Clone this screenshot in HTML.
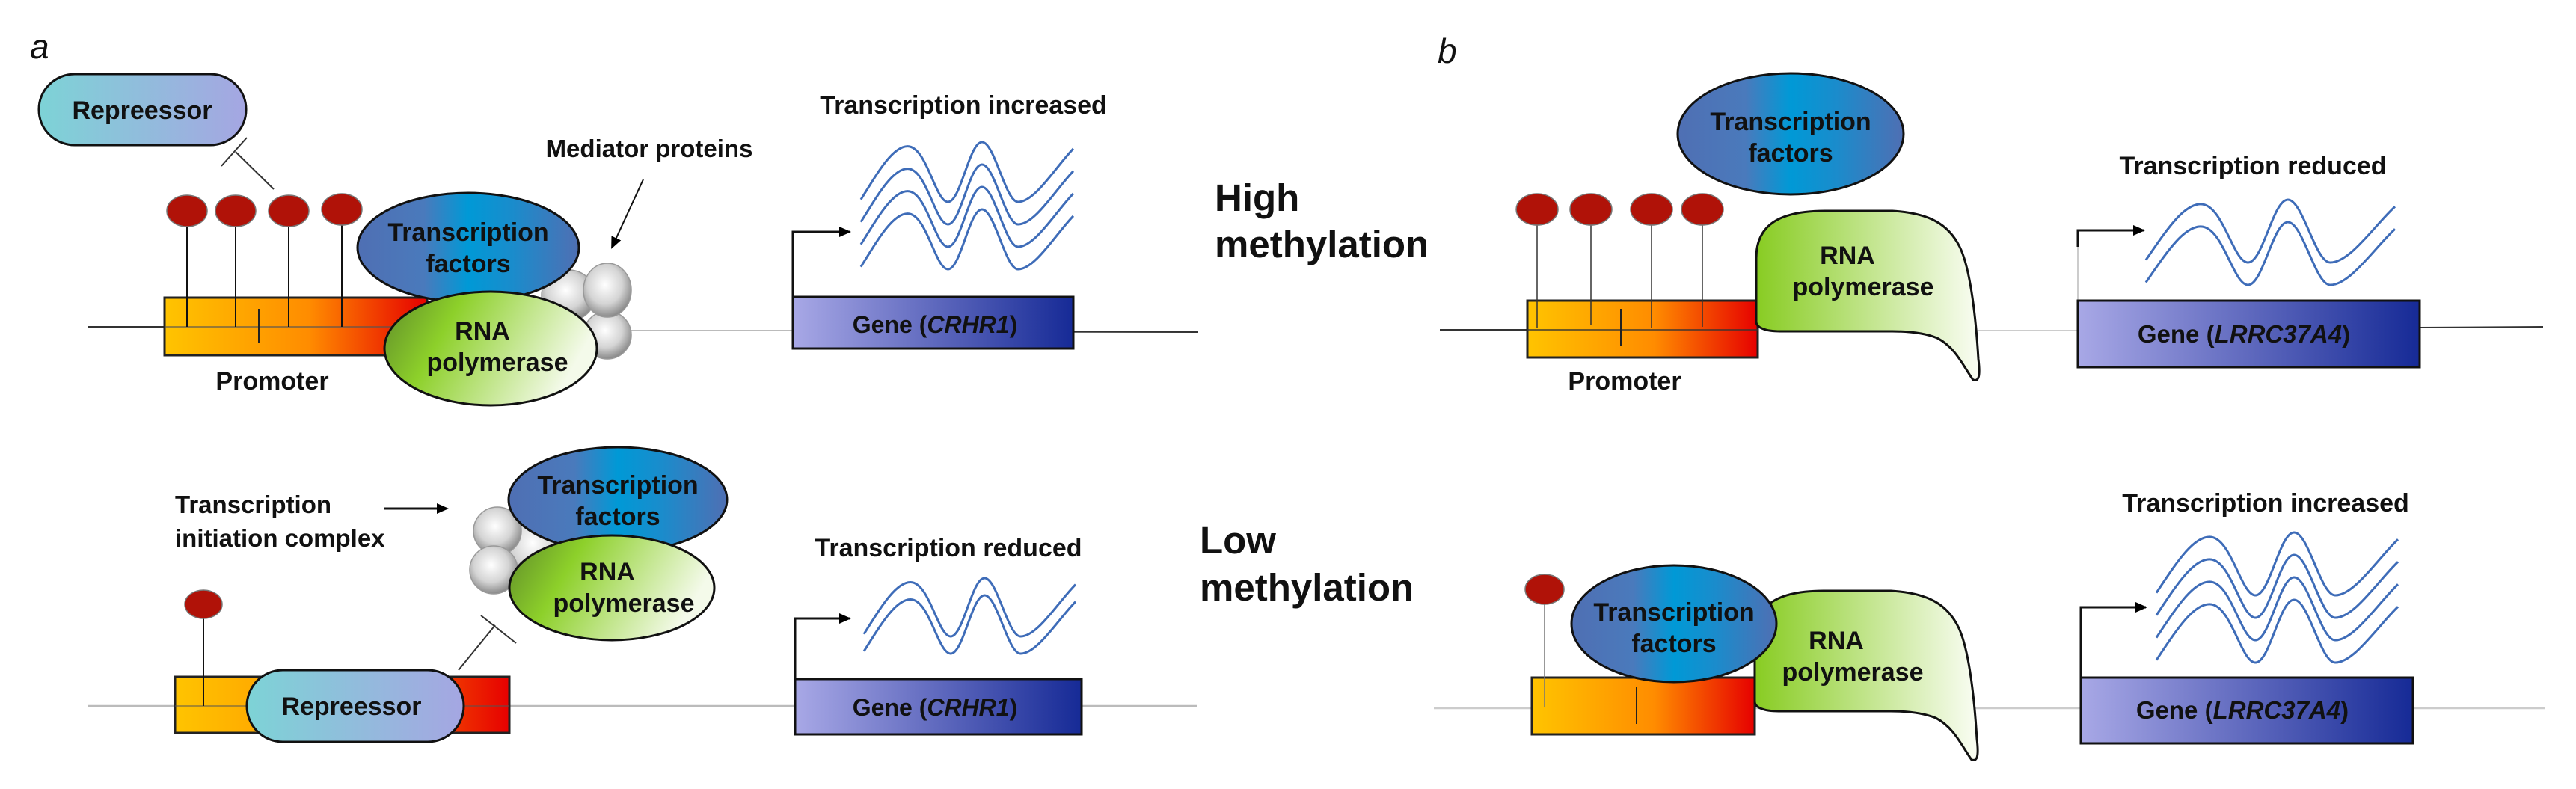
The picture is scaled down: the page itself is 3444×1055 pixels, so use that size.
<!DOCTYPE html>
<html><head><meta charset="utf-8"><style>
html,body{margin:0;padding:0;background:#fff;width:3444px;height:1055px;overflow:hidden}
text{font-family:"Liberation Sans",Arial,sans-serif;font-weight:bold;fill:#111}
</style></head><body>
<svg width="3444" height="1055" viewBox="0 0 3444 1055" xmlns="http://www.w3.org/2000/svg">
<defs>
<linearGradient id="rep" x1="0" x2="1" y1="0" y2="0"><stop offset="0" stop-color="#7dd3d6"/><stop offset="1" stop-color="#a5a6e2"/></linearGradient>
<linearGradient id="pro" x1="0" x2="1" y1="0" y2="0"><stop offset="0" stop-color="#ffc400"/><stop offset="0.55" stop-color="#ff8c00"/><stop offset="1" stop-color="#e60000"/></linearGradient>
<linearGradient id="tf" x1="0" x2="1" y1="0" y2="0"><stop offset="0" stop-color="#4f6fb3"/><stop offset="0.3" stop-color="#4a7abc"/><stop offset="0.5" stop-color="#0099d6"/><stop offset="0.7" stop-color="#1a8ccc"/><stop offset="1" stop-color="#4f6fb3"/></linearGradient>
<linearGradient id="pol" x1="0" x2="1" y1="0" y2="0.3"><stop offset="0" stop-color="#5e8a2a"/><stop offset="0.35" stop-color="#8dd02a"/><stop offset="1" stop-color="#f4faea"/></linearGradient>
<linearGradient id="pol2" x1="0" x2="1" y1="0" y2="0"><stop offset="0" stop-color="#88cc22"/><stop offset="1" stop-color="#fafdf4"/></linearGradient>
<linearGradient id="gene" x1="0" x2="1" y1="0" y2="0"><stop offset="0" stop-color="#a8a8e6"/><stop offset="1" stop-color="#162a96"/></linearGradient>
<radialGradient id="sph" cx="0.45" cy="0.4" r="0.6"><stop offset="0" stop-color="#ffffff"/><stop offset="0.6" stop-color="#d4d4d4"/><stop offset="1" stop-color="#8a8a8a"/></radialGradient>
<marker id="ah2" markerWidth="16" markerHeight="16" refX="14" refY="8" orient="auto" markerUnits="userSpaceOnUse"><path d="M0,1 L16,8 L0,15 Z" fill="#000"/></marker>
</defs>

<!-- ===== Panel a ===== -->
<text x="40" y="78" style="font-style:italic;font-weight:normal" font-size="46">a</text>

<line x1="117" y1="437" x2="230" y2="437" stroke="#333" stroke-width="2"/>
<line x1="780" y1="442" x2="1060" y2="442" stroke="#bbb" stroke-width="2"/>
<line x1="1060" y1="443" x2="1602" y2="444" stroke="#333" stroke-width="2"/>

<rect x="52" y="99" width="277" height="95" rx="48" ry="47" fill="url(#rep)" stroke="#111" stroke-width="3"/>
<text x="190" y="159" font-size="34" text-anchor="middle">Repreessor</text>
<line x1="366" y1="253" x2="315" y2="203" stroke="#333" stroke-width="2"/>
<line x1="296" y1="222" x2="330" y2="184" stroke="#333" stroke-width="2"/>

<rect x="220" y="398" width="351" height="77" fill="url(#pro)" stroke="#222" stroke-width="3"/>
<line x1="220" y1="437" x2="571" y2="437" stroke="#555" stroke-width="2" opacity="0.6"/>
<line x1="346" y1="413" x2="346" y2="458" stroke="#222" stroke-width="2"/>
<g stroke="#111" stroke-width="2">
<line x1="250" y1="290" x2="250" y2="437"/><line x1="315" y1="290" x2="315" y2="437"/>
<line x1="386" y1="290" x2="386" y2="437"/><line x1="457" y1="290" x2="457" y2="437"/>
</g>
<g fill="#b01208" stroke="#777" stroke-width="1.5">
<ellipse cx="250" cy="282" rx="27" ry="21"/><ellipse cx="315" cy="282" rx="27" ry="21"/>
<ellipse cx="386" cy="282" rx="27" ry="21"/><ellipse cx="457" cy="280" rx="27" ry="21"/>
</g>
<text x="364" y="521" font-size="34" text-anchor="middle">Promoter</text>

<g fill="url(#sph)" stroke="#999" stroke-width="1.5">
<ellipse cx="760" cy="395" rx="36" ry="34"/>
<ellipse cx="812" cy="448" rx="32" ry="32"/>
<ellipse cx="812" cy="388" rx="32" ry="36"/>
</g>
<ellipse cx="626" cy="331" rx="148" ry="73" fill="url(#tf)" stroke="#111" stroke-width="3"/>
<text x="626" y="322" font-size="34" text-anchor="middle">Transcription</text>
<text x="626" y="364" font-size="34" text-anchor="middle">factors</text>
<ellipse cx="656" cy="466" rx="142" ry="76" fill="url(#pol)" stroke="#111" stroke-width="3"/>
<text x="645" y="454" font-size="34" text-anchor="middle">RNA</text>
<text x="665" y="496" font-size="34" text-anchor="middle">polymerase</text>

<text x="868" y="210" font-size="33" text-anchor="middle">Mediator proteins</text>
<line x1="860" y1="240" x2="818" y2="331" stroke="#111" stroke-width="2" marker-end="url(#ah2)"/>

<text x="1288" y="152" font-size="34" text-anchor="middle">Transcription increased</text>
<g fill="none" stroke="#3e6cb8" stroke-width="3">
<path vector-effect="non-scaling-stroke" transform="translate(1151,190) scale(284,80)" d="M0,0.96 C0.08,0.5 0.15,0.07 0.22,0.07 C0.31,0.07 0.35,1 0.41,1 C0.47,1 0.51,0 0.57,0 C0.63,0 0.68,1 0.74,1 C0.82,1 0.92,0.4 1,0.11"/>
<path vector-effect="non-scaling-stroke" transform="translate(1151,220) scale(284,80)" d="M0,0.96 C0.08,0.5 0.15,0.07 0.22,0.07 C0.31,0.07 0.35,1 0.41,1 C0.47,1 0.51,0 0.57,0 C0.63,0 0.68,1 0.74,1 C0.82,1 0.92,0.4 1,0.11"/>
<path vector-effect="non-scaling-stroke" transform="translate(1151,250) scale(284,80)" d="M0,0.96 C0.08,0.5 0.15,0.07 0.22,0.07 C0.31,0.07 0.35,1 0.41,1 C0.47,1 0.51,0 0.57,0 C0.63,0 0.68,1 0.74,1 C0.82,1 0.92,0.4 1,0.11"/>
<path vector-effect="non-scaling-stroke" transform="translate(1151,280) scale(284,80)" d="M0,0.96 C0.08,0.5 0.15,0.07 0.22,0.07 C0.31,0.07 0.35,1 0.41,1 C0.47,1 0.51,0 0.57,0 C0.63,0 0.68,1 0.74,1 C0.82,1 0.92,0.4 1,0.11"/>
</g>
<polyline points="1060,397 1060,310 1136,310" fill="none" stroke="#111" stroke-width="3" marker-end="url(#ah2)"/>
<rect x="1060" y="397" width="375" height="69" fill="url(#gene)" stroke="#111" stroke-width="3"/>
<text x="1250" y="445" font-size="32" text-anchor="middle">Gene (<tspan font-style="italic">CRHR1</tspan>)</text>

<text x="1624" y="282" font-size="51">High</text>
<text x="1624" y="344" font-size="51">methylation</text>
<text x="1604" y="740" font-size="51">Low</text>
<text x="1604" y="803" font-size="51">methylation</text>

<line x1="117" y1="944" x2="1600" y2="944" stroke="#bbb" stroke-width="2.5"/>
<text x="234" y="686" font-size="33">Transcription</text>
<text x="234" y="731" font-size="33">initiation complex</text>
<line x1="514" y1="680" x2="598" y2="680" stroke="#111" stroke-width="3" marker-end="url(#ah2)"/>
<g fill="url(#sph)" stroke="#999" stroke-width="1.5">
<ellipse cx="716" cy="735" rx="40" ry="45"/>
<ellipse cx="665" cy="710" rx="32" ry="32"/>
<ellipse cx="660" cy="762" rx="32" ry="32"/>
</g>
<ellipse cx="826" cy="668" rx="146" ry="70" fill="url(#tf)" stroke="#111" stroke-width="3"/>
<text x="826" y="660" font-size="34" text-anchor="middle">Transcription</text>
<text x="826" y="702" font-size="34" text-anchor="middle">factors</text>
<ellipse cx="818" cy="786" rx="137" ry="70" fill="url(#pol)" stroke="#111" stroke-width="3"/>
<text x="812" y="776" font-size="34" text-anchor="middle">RNA</text>
<text x="834" y="818" font-size="34" text-anchor="middle">polymerase</text>
<line x1="613" y1="896" x2="662" y2="836" stroke="#333" stroke-width="2"/>
<line x1="643" y1="823" x2="690" y2="860" stroke="#333" stroke-width="2"/>

<rect x="234" y="905" width="447" height="75" fill="url(#pro)" stroke="#222" stroke-width="3"/>
<line x1="234" y1="944" x2="681" y2="944" stroke="#555" stroke-width="2" opacity="0.5"/>
<line x1="272" y1="818" x2="272" y2="944" stroke="#111" stroke-width="2"/>
<ellipse cx="272" cy="808" rx="25" ry="19" fill="#b01208" stroke="#777" stroke-width="1.5"/>
<rect x="330" y="896" width="290" height="96" rx="48" ry="48" fill="url(#rep)" stroke="#111" stroke-width="3"/>
<text x="470" y="956" font-size="34" text-anchor="middle">Repreessor</text>

<text x="1268" y="744" font-size="34" text-anchor="middle">Transcription reduced</text>
<g fill="none" stroke="#3e6cb8" stroke-width="3">
<path vector-effect="non-scaling-stroke" transform="translate(1155,773) scale(283,78)" d="M0,0.96 C0.08,0.5 0.15,0.07 0.22,0.07 C0.31,0.07 0.35,1 0.41,1 C0.47,1 0.51,0 0.57,0 C0.63,0 0.68,1 0.74,1 C0.82,1 0.92,0.4 1,0.11"/>
<path vector-effect="non-scaling-stroke" transform="translate(1155,796) scale(283,78)" d="M0,0.96 C0.08,0.5 0.15,0.07 0.22,0.07 C0.31,0.07 0.35,1 0.41,1 C0.47,1 0.51,0 0.57,0 C0.63,0 0.68,1 0.74,1 C0.82,1 0.92,0.4 1,0.11"/>
</g>
<polyline points="1063,908 1063,827 1136,827" fill="none" stroke="#111" stroke-width="3" marker-end="url(#ah2)"/>
<rect x="1063" y="908" width="383" height="74" fill="url(#gene)" stroke="#111" stroke-width="3"/>
<text x="1250" y="957" font-size="32" text-anchor="middle">Gene (<tspan font-style="italic">CRHR1</tspan>)</text>

<!-- ===== Panel b ===== -->
<text x="1922" y="84" style="font-style:italic;font-weight:normal" font-size="46">b</text>

<line x1="1925" y1="441" x2="2050" y2="441" stroke="#333" stroke-width="2"/>
<line x1="2620" y1="442" x2="2780" y2="442" stroke="#ccc" stroke-width="2"/>
<line x1="3235" y1="438" x2="3400" y2="437" stroke="#333" stroke-width="2"/>
<ellipse cx="2394" cy="179" rx="151" ry="81" fill="url(#tf)" stroke="#111" stroke-width="3"/>
<text x="2394" y="174" font-size="34" text-anchor="middle">Transcription</text>
<text x="2394" y="216" font-size="34" text-anchor="middle">factors</text>
<rect x="2042" y="402" width="308" height="76" fill="url(#pro)" stroke="#222" stroke-width="3"/>
<line x1="2042" y1="441" x2="2350" y2="441" stroke="#333" stroke-width="2" opacity="0.7"/>
<line x1="2167" y1="413" x2="2167" y2="462" stroke="#222" stroke-width="2"/>
<g stroke="#333" stroke-width="1.5">
<line x1="2055" y1="290" x2="2055" y2="438"/><line x1="2127" y1="290" x2="2127" y2="435"/>
<line x1="2208" y1="290" x2="2208" y2="438"/><line x1="2276" y1="290" x2="2276" y2="437"/>
</g>
<g fill="#b01208" stroke="#777" stroke-width="1.5">
<ellipse cx="2055" cy="280" rx="28" ry="21"/><ellipse cx="2127" cy="280" rx="28" ry="21"/>
<ellipse cx="2208" cy="280" rx="28" ry="21"/><ellipse cx="2276" cy="280" rx="28" ry="21"/>
</g>
<text x="2172" y="521" font-size="34" text-anchor="middle">Promoter</text>
<path d="M2348,430 L2348,345 C2348,300 2380,282 2440,282 L2530,282 C2580,285 2605,300 2620,330 C2635,360 2642,430 2645,480 C2648,505 2645,510 2638,508 C2625,490 2615,465 2590,452 C2575,446 2555,443 2530,443 L2380,443 C2360,443 2348,438 2348,430 Z" fill="url(#pol2)" stroke="#111" stroke-width="3"/>
<text x="2470" y="353" font-size="34" text-anchor="middle">RNA</text>
<text x="2491" y="395" font-size="34" text-anchor="middle">polymerase</text>

<text x="3012" y="233" font-size="34" text-anchor="middle">Transcription reduced</text>
<g fill="none" stroke="#3e6cb8" stroke-width="3">
<path vector-effect="non-scaling-stroke" transform="translate(2869,267) scale(333,84)" d="M0,0.96 C0.08,0.5 0.15,0.07 0.22,0.07 C0.31,0.07 0.35,1 0.41,1 C0.47,1 0.51,0 0.57,0 C0.63,0 0.68,1 0.74,1 C0.82,1 0.92,0.4 1,0.11"/>
<path vector-effect="non-scaling-stroke" transform="translate(2869,297) scale(333,84)" d="M0,0.96 C0.08,0.5 0.15,0.07 0.22,0.07 C0.31,0.07 0.35,1 0.41,1 C0.47,1 0.51,0 0.57,0 C0.63,0 0.68,1 0.74,1 C0.82,1 0.92,0.4 1,0.11"/>
</g>
<polyline points="2778,330 2778,308 2866,308" fill="none" stroke="#111" stroke-width="3" marker-end="url(#ah2)"/>
<line x1="2778" y1="402" x2="2778" y2="330" stroke="#ccc" stroke-width="2"/>
<rect x="2778" y="402" width="457" height="89" fill="url(#gene)" stroke="#111" stroke-width="3"/>
<text x="3000" y="458" font-size="33" text-anchor="middle">Gene (<tspan font-style="italic">LRRC37A4</tspan>)</text>

<line x1="1917" y1="947" x2="3402" y2="947" stroke="#ccc" stroke-width="2.5"/>
<rect x="2048" y="906" width="298" height="76" fill="url(#pro)" stroke="#222" stroke-width="3"/>
<line x1="2188" y1="918" x2="2188" y2="968" stroke="#222" stroke-width="2"/>
<line x1="2065" y1="800" x2="2065" y2="945" stroke="#777" stroke-width="1.5"/>
<ellipse cx="2065" cy="788" rx="26" ry="20" fill="#b01208" stroke="#777" stroke-width="1.5"/>
<path transform="translate(-2,508)" d="M2348,430 L2348,345 C2348,300 2380,282 2440,282 L2530,282 C2580,285 2605,300 2620,330 C2635,360 2642,430 2645,480 C2648,505 2645,510 2638,508 C2625,490 2615,465 2590,452 C2575,446 2555,443 2530,443 L2380,443 C2360,443 2348,438 2348,430 Z" fill="url(#pol2)" stroke="#111" stroke-width="3"/>
<ellipse cx="2238" cy="834" rx="137" ry="78" fill="url(#tf)" stroke="#111" stroke-width="3"/>
<text x="2238" y="830" font-size="34" text-anchor="middle">Transcription</text>
<text x="2238" y="872" font-size="34" text-anchor="middle">factors</text>
<text x="2455" y="868" font-size="34" text-anchor="middle">RNA</text>
<text x="2477" y="910" font-size="34" text-anchor="middle">polymerase</text>

<text x="3029" y="684" font-size="34" text-anchor="middle">Transcription increased</text>
<g fill="none" stroke="#3e6cb8" stroke-width="3">
<path vector-effect="non-scaling-stroke" transform="translate(2883,712) scale(323,84)" d="M0,0.96 C0.08,0.5 0.15,0.07 0.22,0.07 C0.31,0.07 0.35,1 0.41,1 C0.47,1 0.51,0 0.57,0 C0.63,0 0.68,1 0.74,1 C0.82,1 0.92,0.4 1,0.11"/>
<path vector-effect="non-scaling-stroke" transform="translate(2883,742) scale(323,84)" d="M0,0.96 C0.08,0.5 0.15,0.07 0.22,0.07 C0.31,0.07 0.35,1 0.41,1 C0.47,1 0.51,0 0.57,0 C0.63,0 0.68,1 0.74,1 C0.82,1 0.92,0.4 1,0.11"/>
<path vector-effect="non-scaling-stroke" transform="translate(2883,772) scale(323,84)" d="M0,0.96 C0.08,0.5 0.15,0.07 0.22,0.07 C0.31,0.07 0.35,1 0.41,1 C0.47,1 0.51,0 0.57,0 C0.63,0 0.68,1 0.74,1 C0.82,1 0.92,0.4 1,0.11"/>
<path vector-effect="non-scaling-stroke" transform="translate(2883,802) scale(323,84)" d="M0,0.96 C0.08,0.5 0.15,0.07 0.22,0.07 C0.31,0.07 0.35,1 0.41,1 C0.47,1 0.51,0 0.57,0 C0.63,0 0.68,1 0.74,1 C0.82,1 0.92,0.4 1,0.11"/>
</g>
<polyline points="2782,906 2782,812 2869,812" fill="none" stroke="#111" stroke-width="3" marker-end="url(#ah2)"/>
<rect x="2782" y="906" width="444" height="88" fill="url(#gene)" stroke="#111" stroke-width="3"/>
<text x="2998" y="961" font-size="33" text-anchor="middle">Gene (<tspan font-style="italic">LRRC37A4</tspan>)</text>
</svg>
</body></html>
